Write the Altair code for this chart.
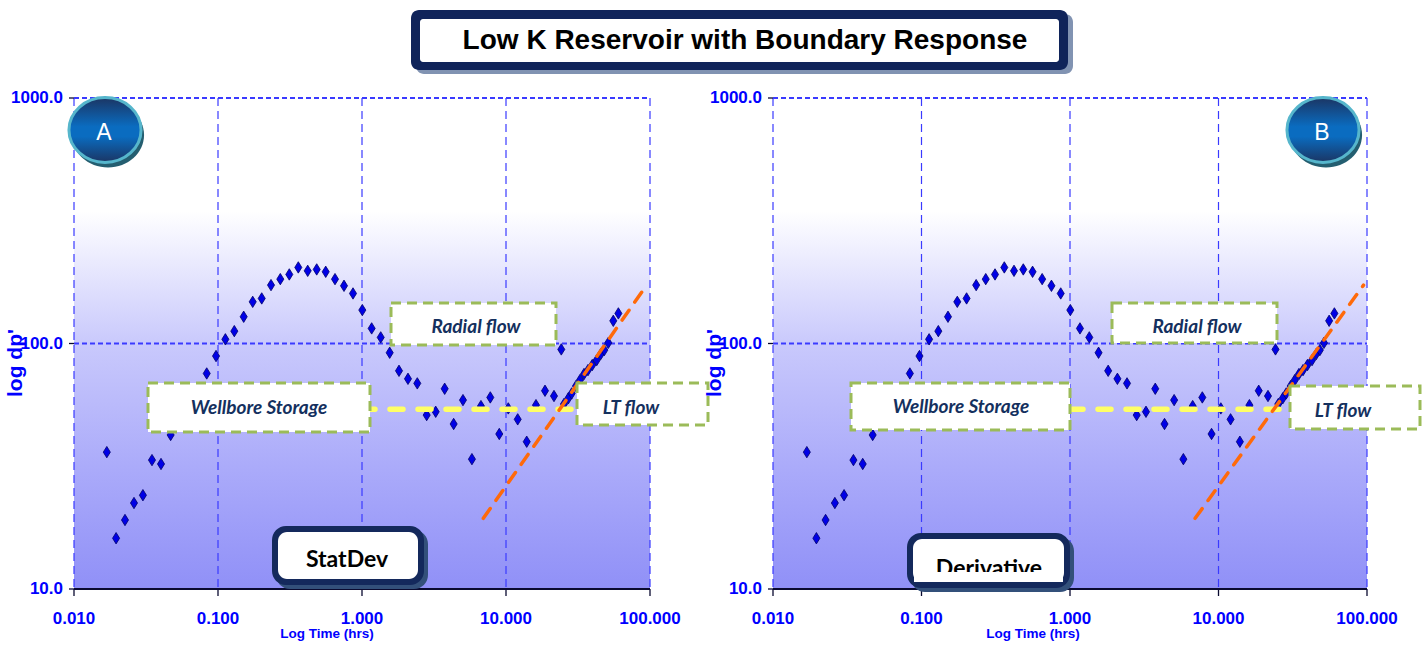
import altair as alt
import pandas as pd

# Pressure-derivative response, time in hours, dp' in psi
time_hr = [0.0169, 0.0196, 0.0226, 0.0261, 0.0301, 0.0348, 0.0402, 0.0469,
           0.0541, 0.0624, 0.0720, 0.0835, 0.0969, 0.1125, 0.1298, 0.1508,
           0.1742, 0.2012, 0.2334, 0.2708, 0.3127, 0.3611, 0.4197, 0.4847,
           0.5597, 0.6494, 0.750, 0.866, 1.005, 1.167, 1.349, 1.557, 1.807,
           2.086, 2.421, 2.813, 3.249, 3.751, 4.33, 5.026, 5.80, 6.70, 7.78,
           8.98, 10.37, 12.06, 13.93, 16.15, 18.66, 21.54, 24.2, 25.28, 27.08,
           28.58, 30.62, 32.66, 34.82, 37.08, 39.72, 42.66, 45.47, 48.15, 51.3,
           55.6, 60.3]
dp_prime = [36.1, 16.1, 19.1, 22.4, 24.1, 33.5, 32.3, 42.4,
            48.8, 56.1, 64.6, 75.5, 88.9, 104.0, 112.3, 128.5,
            147.8, 152.6, 172.9, 182.9, 191.1, 204.1, 197.7, 200.3,
            195.9, 182.9, 171.8, 159.9, 136.8, 115.2, 105.9, 91.7, 77.4,
            71.8, 68.8, 51.1, 52.7, 65.4, 47.0, 58.8, 33.8, 55.6, 60.3,
            42.8, 54.4, 49.1, 39.8, 56.1, 64.2, 61.1, 94.6, 56.7, 59.8,
            62.6, 67.1, 71.0, 75.1, 77.9, 81.7, 85.6, 90.5, 94.0, 100.6,
            123.7, 132.6]

# Late-time boundary trend
lt_time = [6.96, 94.8]
lt_dp = [19.4, 172.9]

# Radial-flow stabilisation level
radial_time = [1.0, 31.0]
radial_dp = [54.0, 54.0]

x_ticks = [0.01, 0.1, 1, 10, 100]
x_tick_labels = ["0.010", "0.100", "1.000", "10.000", "100.000"]
y_ticks = [10, 100, 1000]
y_tick_labels = ["10.0", "100.0", "1000.0"]

x_title = "Log Time (hrs)"
y_title = "log dp'"
chart_title = "Low K Reservoir with Boundary Response"

# ---------------------------------------------------------------- styling
ARIAL = "Liberation Sans, Arial, sans-serif"
CAL = "Lato, Carlito, Calibri, sans-serif"
BLUE = "#0000FF"
GRID = "#3A3AFF"
NAVY_TXT = "#14305E"
GREEN = "#9BBB59"
Y_TOP, Y_BOT = 98, 589

series = pd.DataFrame({"t": time_hr, "dp": dp_prime})
trend = pd.DataFrame({"t": lt_time, "dp": lt_dp})
radial = pd.DataFrame({"t": radial_time, "dp": radial_dp})
xgrid = pd.DataFrame({"t": x_ticks, "lab": x_tick_labels})
ygrid = pd.DataFrame({"dp": y_ticks, "lab": y_tick_labels})
frame = pd.DataFrame({"t0": [x_ticks[0]], "t1": [x_ticks[-1]],
                      "d0": [y_ticks[0]], "d1": [y_ticks[-1]]})
one = pd.DataFrame({"k": [0]})

ysc = alt.Scale(type="log", domain=[y_ticks[0], y_ticks[-1]],
                range=[Y_BOT, Y_TOP], nice=False)

bg_fill = alt.LinearGradient(
    gradient="linear", x1=0, x2=0, y1=0, y2=1,
    stops=[alt.GradientStop(offset=0, color="#FFFFFF"),
           alt.GradientStop(offset=0.23, color="#FFFFFF"),
           alt.GradientStop(offset=0.5, color="#C9C9FC"),
           alt.GradientStop(offset=0.75, color="#ABABFA"),
           alt.GradientStop(offset=1, color="#9090F7")])

badge_fill = alt.LinearGradient(
    gradient="linear", x1=0, x2=0, y1=0, y2=1,
    stops=[alt.GradientStop(offset=0, color="#1B3563"),
           alt.GradientStop(offset=0.45, color="#0A6CC0"),
           alt.GradientStop(offset=0.6, color="#0A6CC0"),
           alt.GradientStop(offset=1, color="#1B3563")])

DIAMOND = "M0,-1L0.62,0L0,1L-0.62,0Z"
ELLIPSE = "M-1,0A1,0.9,0,1,0,1,0A1,0.9,0,1,0,-1,0Z"


def box(xa, xb, ya, yb, **mark):
    return alt.Chart(one).mark_rect(**mark).encode(
        x=alt.value(xa), x2=alt.value(xb), y=alt.value(ya), y2=alt.value(yb))


def label(x, y, text, **mark):
    return alt.Chart(one).mark_text(text=text, **mark).encode(
        x=alt.value(x), y=alt.value(y))


def note(xa, xb, ya, yb, tx, ty, text):
    frame_box = box(xa, xb, ya, yb, fill="white", stroke=GREEN,
                    strokeWidth=3, strokeDash=[10, 6])
    txt = label(tx, ty, text, font=CAL, fontSize=19, fontWeight="bold",
                fontStyle="italic", color=NAVY_TXT, baseline="middle")
    return [frame_box, txt]


def panel(x0, x1, d):
    xsc = alt.Scale(type="log", domain=[x_ticks[0], x_ticks[-1]],
                    range=[x0, x1], nice=False)
    X = lambda f: alt.X(f, type="quantitative", scale=xsc, axis=None)
    Y = lambda f: alt.Y(f, type="quantitative", scale=ysc, axis=None)
    X2 = lambda f: alt.X2(f)
    Y2 = lambda f: alt.Y2(f)

    layers = []
    # plot background
    layers.append(alt.Chart(frame).mark_rect(fill=bg_fill, strokeWidth=0).encode(
        x=X("t0"), x2=X2("t1"), y=Y("d1"), y2=Y2("d0")))
    # vertical grid lines (incl. left and right borders)
    layers.append(alt.Chart(xgrid).mark_rule(color=GRID, strokeWidth=1.2,
                                             strokeDash=[8, 5]).encode(
        x=X("t"), y=alt.value(Y_TOP), y2=alt.value(Y_BOT)))
    # horizontal grid lines at 100 and 1000
    layers.append(alt.Chart(ygrid[ygrid.dp > y_ticks[0]]).mark_rule(
        color=GRID, strokeWidth=1.8, strokeDash=[5, 3]).encode(
        y=Y("dp"), x=alt.value(x0), x2=alt.value(x1)))
    # bottom axis line and ticks
    layers.append(alt.Chart(frame).mark_rule(color="#0A0A30", strokeWidth=2).encode(
        x=X("t0"), x2=X2("t1"), y=Y("d0")))
    layers.append(alt.Chart(xgrid).mark_rule(color="#0A0A30", strokeWidth=1.3).encode(
        x=X("t"), y=alt.value(Y_BOT), y2=alt.value(Y_BOT + 7)))
    layers.append(alt.Chart(ygrid).mark_rule(color="#0A0A30", strokeWidth=1.3).encode(
        y=Y("dp"), x=alt.value(x0 - 5), x2=alt.value(x0)))

    # derivative points
    layers.append(alt.Chart(series).mark_point(
        shape=DIAMOND, filled=True, fill="#0000E6", stroke="#00006A",
        strokeWidth=0.8, opacity=1, size=130).encode(x=X("t"), y=Y("dp")))
    # radial flow level
    layers.append(alt.Chart(radial).mark_line(
        color="#FFFF66", strokeWidth=5.5, strokeDash=[13, 15],
        strokeCap="round").encode(x=X("t"), y=Y("dp")))
    # late-time trend
    layers.append(alt.Chart(trend).mark_line(
        color="#FF6A0A", strokeWidth=3.5, strokeDash=[12, 10],
        strokeCap="round").encode(x=X("t"), y=Y("dp")))

    # annotation boxes
    for n in d["notes"]:
        layers += note(*n)

    # panel tag box
    bx0, bx1, by0, by1 = d["tag_box"]
    layers.append(box(bx0 + 4, bx1 + 4, by0 + 4, by1 + 4, fill="#33507A",
                      cornerRadius=14))
    layers.append(box(bx0, bx1, by0, by1, fill="#14295C", cornerRadius=14))
    layers.append(box(bx0 + 6, bx1 - 6, by0 + 6, by1 - 6, fill="white",
                      cornerRadius=9))
    layers.append(label(d["tag_xy"][0], d["tag_xy"][1], d["tag"], font=CAL,
                        fontSize=23, fontWeight="bold", color="black",
                        baseline="alphabetic"))
    if d.get("tag_cut"):
        layers.append(box(bx0 + 7, bx1 - 7, d["tag_cut"], by1 - 6,
                          fill="white"))

    # round badge
    cx, cy = d["badge"]
    layers.append(alt.Chart(one).mark_point(
        shape=ELLIPSE, filled=True, fill="#245E70", opacity=1,
        size=5200).encode(x=alt.value(cx + 3), y=alt.value(cy + 5)))
    layers.append(alt.Chart(one).mark_point(
        shape=ELLIPSE, filled=True, fill=badge_fill, stroke="#56B6CC",
        strokeWidth=3, opacity=1, size=5200).encode(
        x=alt.value(cx), y=alt.value(cy)))
    layers.append(label(cx - 1, cy + 3, d["letter"], font=ARIAL, fontSize=23,
                        color="white", baseline="middle"))

    # tick labels and axis titles
    layers.append(alt.Chart(xgrid).mark_text(
        font=ARIAL, fontSize=17, fontWeight="bold", color=BLUE,
        baseline="middle").encode(x=X("t"), y=alt.value(619), text="lab"))
    layers.append(alt.Chart(ygrid).mark_text(
        font=ARIAL, fontSize=17, fontWeight="bold", color=BLUE,
        align="right", baseline="middle").encode(
        y=Y("dp"), x=alt.value(x0 - 11), text="lab"))
    layers.append(label(d["xtitle_x"], 634, x_title, font=ARIAL, fontSize=13.5,
                        fontWeight="bold", color=BLUE, baseline="middle"))
    layers.append(label(x0 - 58, 363, y_title, font=ARIAL, fontSize=21,
                        fontWeight="bold", color=BLUE, baseline="middle",
                        angle=270))
    return layers


panel_a = dict(
    notes=[(148, 370, 383, 432, 259, 408, "Wellbore Storage"),
           (391, 556, 303, 345, 476, 327, "Radial flow"),
           (577, 708, 383, 425, 631, 408, "LT flow")],
    tag_box=(272, 424, 526, 585), tag="StatDev", tag_xy=(347, 567),
    badge=(105, 130), letter="A", xtitle_x=327)

panel_b = dict(
    notes=[(851, 1070, 383, 430, 961, 407, "Wellbore Storage"),
           (1112, 1277, 303, 343, 1197, 327, "Radial flow"),
           (1290, 1420, 386, 429, 1343, 411, "LT flow")],
    tag_box=(907, 1070, 533, 588), tag="Derivative", tag_xy=(989, 576),
    tag_cut=572, badge=(1323, 130), letter="B", xtitle_x=1033)

layers = panel(74, 650, panel_a) + panel(773, 1367, panel_b)

# chart title plaque
layers.append(box(416, 1073, 14, 74, fill="#8193B2", cornerRadius=8))
layers.append(box(411, 1068, 10, 70, fill="#10245A", cornerRadius=8))
layers.append(box(420, 1059, 19, 62, fill="white", cornerRadius=3))
layers.append(label(745, 41, chart_title, font=ARIAL, fontSize=28,
                    fontWeight="bold", color="black", baseline="middle"))

chart = alt.layer(*layers).resolve_scale(
    x="independent", y="independent"
).properties(
    width=1427, height=646, padding=0, autosize="none", background="white"
).configure_view(strokeWidth=0)

chart.save("out.html", embed_options={"renderer": "svg", "actions": False})
